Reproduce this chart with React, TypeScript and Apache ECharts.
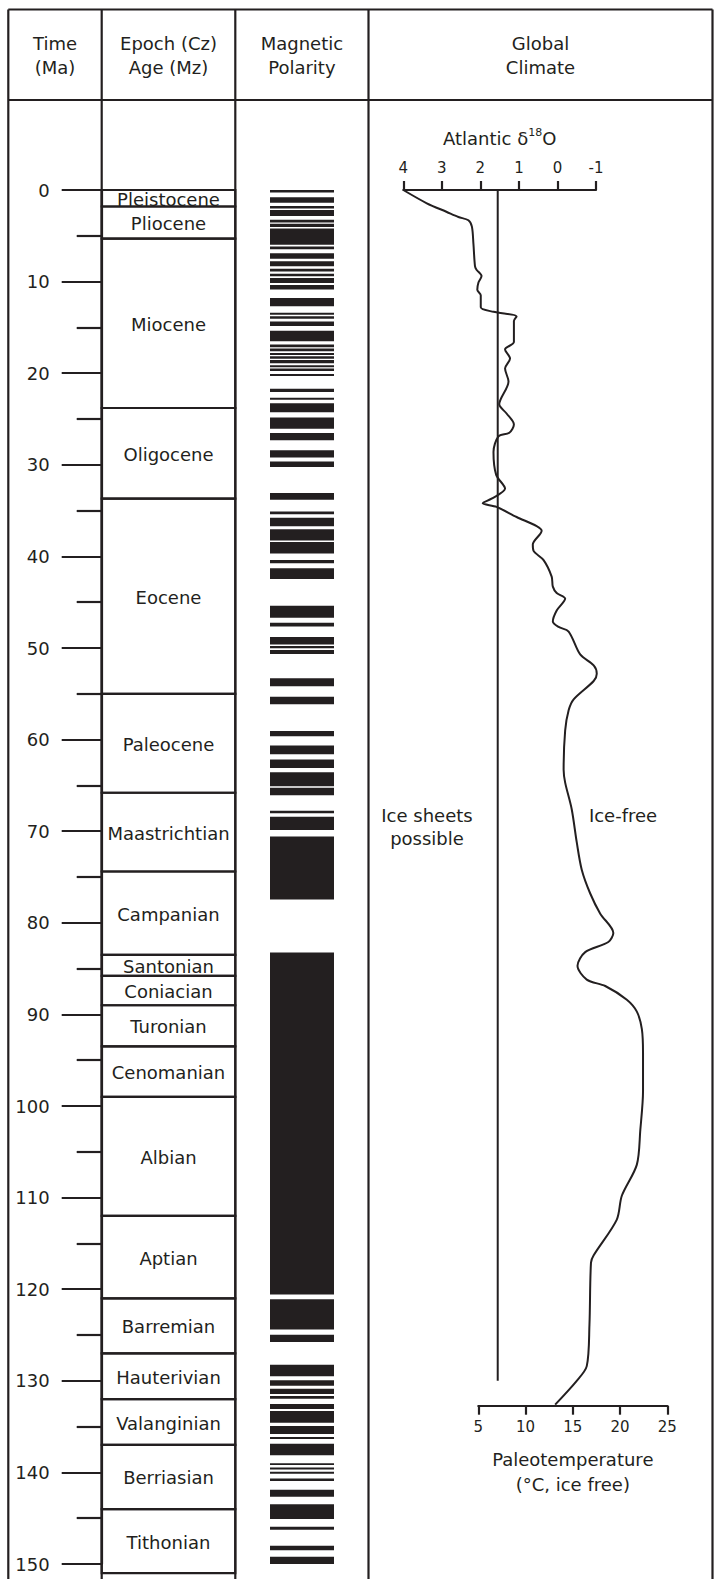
import React, { useEffect, useRef } from 'react';
import * as echarts from 'echarts';

// ---------------- data ----------------
const ageNames = [
  'Pleistocene', 'Pliocene', 'Miocene', 'Oligocene', 'Eocene', 'Paleocene',
  'Maastrichtian', 'Campanian', 'Santonian', 'Coniacian', 'Turonian', 'Cenomanian',
  'Albian', 'Aptian', 'Barremian', 'Hauterivian', 'Valanginian', 'Berriasian', 'Tithonian',
];
const ageTops = [0, 1.8, 5.3, 23.8, 33.7, 55, 65.8, 74.4, 83.5, 85.8, 89, 93.5, 99, 112, 121, 127, 132, 137, 144];
const ageBottoms = [1.8, 5.3, 23.8, 33.7, 55, 65.8, 74.4, 83.5, 85.8, 89, 93.5, 99, 112, 121, 127, 132, 137, 144, 151];

// normal-polarity intervals (Ma): [start, end]
const polarityNormal: [number, number][] = [
  [0, 0.28], [0.8, 1.39], [1.74, 2.01], [2.19, 2.85], [3.26, 3.54], [3.68, 4.03], [4.2, 5.97],
  [6.18, 6.46], [6.91, 7.5], [7.78, 8.33], [8.61, 8.89], [9.13, 9.41], [9.62, 10.14], [10.36, 10.87],
  [11.78, 12.68], [13.41, 13.62], [13.77, 14.06], [14.35, 14.86], [15.36, 16.52], [16.88, 17.17],
  [17.3, 17.6], [17.8, 18.0], [18.15, 18.43], [18.57, 18.92], [19.13, 19.34], [19.48, 19.76],
  [20.1, 20.31], [21.71, 22.06], [22.68, 22.89], [23.28, 24.25], [24.84, 26.06], [26.52, 27.32],
  [28.4, 29.2], [29.65, 30.24], [33.07, 33.81], [35.11, 35.41], [35.78, 36.7], [37.04, 38.26],
  [38.44, 39.67], [40.4, 40.74], [41.29, 42.46], [45.4, 46.69], [47.24, 47.65], [48.79, 49.63],
  [49.78, 50.04], [50.22, 50.66], [53.3, 54.18], [55.32, 56.14], [59.07, 59.64], [60.65, 61.59],
  [62.17, 63.1], [63.57, 65.1], [65.25, 66.08], [67.76, 68.05], [68.41, 69.86], [70.58, 77.46],
  [83.24, 120.58], [121.1, 124.4], [124.96, 125.77], [128.24, 129.5], [129.93, 130.54],
  [130.87, 131.45], [131.67, 131.96], [132.54, 133.08], [133.3, 134.57], [134.93, 135.8],
  [136.14, 136.36], [136.86, 138.14], [139.0, 139.2], [139.46, 139.68], [139.93, 140.15],
  [140.66, 140.95], [141.9, 142.67], [143.47, 145.1], [145.92, 146.27], [148.0, 148.5], [149.2, 150.0],
];

// Atlantic d18O curve
const d18OAge = [
  0, 1.45, 2.4, 2.95, 3.3, 4.0, 5.9, 8.3, 8.7, 9.4, 10.1, 10.9, 11.5, 12.8, 13.3, 13.8, 14.3, 16.6,
  17.4, 18.4, 19.5, 20.9, 23.4, 24.4, 25.6, 26.5, 26.9, 28.6, 31.1, 32.6, 33.7, 34.2, 34.6, 35.7,
  36.7, 37.2, 38.7, 39.4, 40.4, 42.2, 43.3, 44.0, 44.6, 45.9, 47.1, 47.7, 48.2, 50.7, 51.9, 52.8,
  53.6, 55.6, 56.8, 59.0, 63.3, 64.7, 67.6, 71.2, 74.2, 76.8, 79.0, 81.1, 82.1, 83.2, 84.7, 86.2,
  86.9, 88.4, 89.7, 91.6, 94.2, 98.4, 102.6, 106.4, 109.8, 112.4, 116.3, 117.1, 123.9, 128.4, 130.0, 132.6,
];
const d18OValue = [
  4.0, 3.39, 2.87, 2.57, 2.31, 2.22, 2.18, 2.14, 2.1, 1.97, 2.05, 2.08, 1.99, 1.99, 1.66, 1.06, 1.13, 1.13,
  1.36, 1.23, 1.36, 1.27, 1.51, 1.32, 1.13, 1.25, 1.53, 1.66, 1.59, 1.36, 1.71, 1.94, 1.58, 1.06,
  0.54, 0.41, 0.64, 0.62, 0.36, 0.15, 0.12, 0.02, -0.2, 0.02, 0.12, -0.03, -0.29, -0.59, -0.94, -1.02,
  -0.94, -0.42, -0.29, -0.2, -0.16, -0.2, -0.37, -0.5, -0.63, -0.85, -1.11, -1.45, -1.32, -0.72, -0.52, -0.76,
  -1.24, -1.8, -2.06, -2.19, -2.22, -2.22, -2.15, -2.06, -1.67, -1.54, -0.94, -0.87, -0.83, -0.76, -0.5, 0.06,
];
const iceThreshold = 1.55;
const iceThresholdAges = [0, 130];

// ---------------- layout ----------------
const INK = '#231f20';
const FONT = '"DejaVu Sans", sans-serif';
const LW = 2.2;
const X_LEFT = 8.3, X_COL1 = 101.7, X_COL2 = 235.3, X_COL3 = 368.5, X_RIGHT = 712.5;
const Y_TOP = 9.5, Y_HEAD = 100, Y_BOTTOM = 1579;
const POL_L = 270, POL_R = 334;
const PLOT_TOP = 190, PLOT_H = 1374;
const D_LEFT = 403.3, D_PX_PER_UNIT = 38.54; // δ18O scale: 4 at D_LEFT
const D_WIDE_MIN = -3.5;

const line = (x1: number, y1: number, x2: number, y2: number) => ({
  type: 'line', shape: { x1, y1, x2, y2 }, style: { stroke: INK, lineWidth: LW }, silent: true,
});
const txt = (x: number, y: number, text: string, size = 18, lh = 24) => ({
  type: 'text', x, y, silent: true,
  style: { text, fill: INK, fontSize: size, fontFamily: FONT, align: 'center', verticalAlign: 'middle', lineHeight: lh },
});

export default function App() {
  const ref = useRef<HTMLDivElement>(null);
  useEffect(() => {
    const chart = echarts.init(ref.current!, null, { renderer: 'svg' });
    const option: any = {
      animation: false,
      backgroundColor: '#ffffff',
      grid: [
        { left: X_COL1, top: PLOT_TOP, width: X_COL3 - X_COL1, height: PLOT_H },
        { left: D_LEFT, top: PLOT_TOP, width: 5 * D_PX_PER_UNIT, height: PLOT_H },
        { left: 478.3, top: 1300, width: 189, height: 105.7 },
        { left: D_LEFT, top: PLOT_TOP, width: (4 - D_WIDE_MIN) * D_PX_PER_UNIT, height: PLOT_H },
      ],
      xAxis: [
        { gridIndex: 0, type: 'value', min: 0, max: 1, show: false },
        {
          gridIndex: 1, type: 'value', position: 'top', inverse: true, min: -1, max: 4, interval: 1,
          axisLine: { show: true, lineStyle: { color: INK, width: LW } },
          axisTick: { show: true, inside: false, length: 9, lineStyle: { color: INK, width: LW } },
          axisLabel: { color: INK, fontSize: 15, fontFamily: FONT, margin: 15 },
          splitLine: { show: false },
          name: 'Atlantic δ{sup|18}O', nameLocation: 'middle', nameGap: 41,
          nameTextStyle: {
            color: INK, fontSize: 18, fontFamily: FONT, lineHeight: 22,
            rich: { sup: { fontSize: 11, fontFamily: FONT, color: INK, verticalAlign: 'top', lineHeight: 22 } },
          },
        },
        {
          gridIndex: 2, type: 'value', position: 'bottom', min: 5, max: 25, interval: 5,
          axisLine: { show: true, lineStyle: { color: INK, width: LW } },
          axisTick: { show: true, inside: false, length: 9, lineStyle: { color: INK, width: LW } },
          axisLabel: { color: INK, fontSize: 15, fontFamily: FONT, margin: 14 },
          splitLine: { show: false },
          name: 'Paleotemperature\n(°C, ice free)', nameLocation: 'middle', nameGap: 41,
          nameTextStyle: { color: INK, fontSize: 18, fontFamily: FONT, lineHeight: 25 },
        },
        { gridIndex: 3, type: 'value', inverse: true, min: D_WIDE_MIN, max: 4, show: false },
      ],
      yAxis: [
        {
          gridIndex: 0, type: 'value', inverse: true, min: 0, max: 150, interval: 10, position: 'left',
          axisLine: { show: true, lineStyle: { color: INK, width: LW } },
          axisTick: { show: true, inside: false, length: 40, lineStyle: { color: INK, width: LW } },
          minorTick: { show: true, splitNumber: 2, length: 25, lineStyle: { color: INK, width: LW } },
          axisLabel: { color: INK, fontSize: 18, fontFamily: FONT, margin: 52 },
          splitLine: { show: false }, minorSplitLine: { show: false },
        },
        { gridIndex: 1, type: 'value', inverse: true, min: 0, max: 150, show: false },
        { gridIndex: 2, type: 'value', min: 0, max: 1, show: false },
        { gridIndex: 3, type: 'value', inverse: true, min: 0, max: 150, show: false },
      ],
      graphic: [
        line(X_LEFT, Y_TOP, X_RIGHT, Y_TOP),
        line(X_LEFT, Y_HEAD, X_RIGHT, Y_HEAD),
        line(X_LEFT, Y_TOP, X_LEFT, Y_BOTTOM),
        line(X_COL1, Y_TOP, X_COL1, Y_BOTTOM),
        line(X_COL2, Y_TOP, X_COL2, Y_BOTTOM),
        line(X_COL3, Y_TOP, X_COL3, Y_BOTTOM),
        line(X_RIGHT, Y_TOP, X_RIGHT, Y_BOTTOM),
        txt((X_LEFT + X_COL1) / 2, 55.5, 'Time\n(Ma)'),
        txt((X_COL1 + X_COL2) / 2, 55.5, 'Epoch (Cz)\nAge (Mz)'),
        txt((X_COL2 + X_COL3) / 2, 55.5, 'Magnetic\nPolarity'),
        txt((X_COL3 + X_RIGHT) / 2, 55.5, 'Global\nClimate'),
        txt(427, 826.5, 'Ice sheets\npossible', 18, 23),
        txt(623, 815, 'Ice-free'),
      ],
      series: [
        {
          type: 'custom', xAxisIndex: 0, yAxisIndex: 0, clip: false,
          data: ageTops.map((t, i) => [t, ageBottoms[i]]),
          renderItem: (params: any, api: any) => {
            const p0 = api.coord([0, api.value(0)]);
            const p1 = api.coord([0, api.value(1)]);
            return {
              type: 'group',
              children: [
                {
                  type: 'rect',
                  shape: { x: X_COL1, y: p0[1], width: X_COL2 - X_COL1, height: p1[1] - p0[1] },
                  style: { fill: 'none', stroke: INK, lineWidth: LW },
                },
                {
                  type: 'text', x: (X_COL1 + X_COL2) / 2, y: (p0[1] + p1[1]) / 2 + 1,
                  style: {
                    text: ageNames[params.dataIndex], fill: INK, fontSize: 18, fontFamily: FONT,
                    align: 'center', verticalAlign: 'middle',
                  },
                },
              ],
            };
          },
        },
        {
          type: 'custom', xAxisIndex: 0, yAxisIndex: 0, clip: false,
          data: polarityNormal.map((p) => [p[0], p[1]]),
          renderItem: (params: any, api: any) => {
            const p0 = api.coord([0, api.value(0)]);
            const p1 = api.coord([0, api.value(1)]);
            return {
              type: 'rect',
              shape: { x: POL_L, y: p0[1], width: POL_R - POL_L, height: Math.max(1, p1[1] - p0[1]) },
              style: { fill: INK },
            };
          },
        },
        {
          type: 'line', xAxisIndex: 3, yAxisIndex: 3, showSymbol: false, clip: false, silent: true,
          data: iceThresholdAges.map((a) => [iceThreshold, a]),
          lineStyle: { color: INK, width: 2 },
        },
        {
          type: 'line', xAxisIndex: 3, yAxisIndex: 3, showSymbol: false, clip: false, silent: true,
          smooth: 0.3,
          data: d18OValue.map((v, i) => [v, d18OAge[i]]),
          lineStyle: { color: INK, width: 2 },
        },
      ],
    };
    chart.setOption(option);
    return () => chart.dispose();
  }, []);
  return <div ref={ref} style={{ position: 'absolute', left: 0, top: 0, width: 714, height: 1579 }} />;
}
